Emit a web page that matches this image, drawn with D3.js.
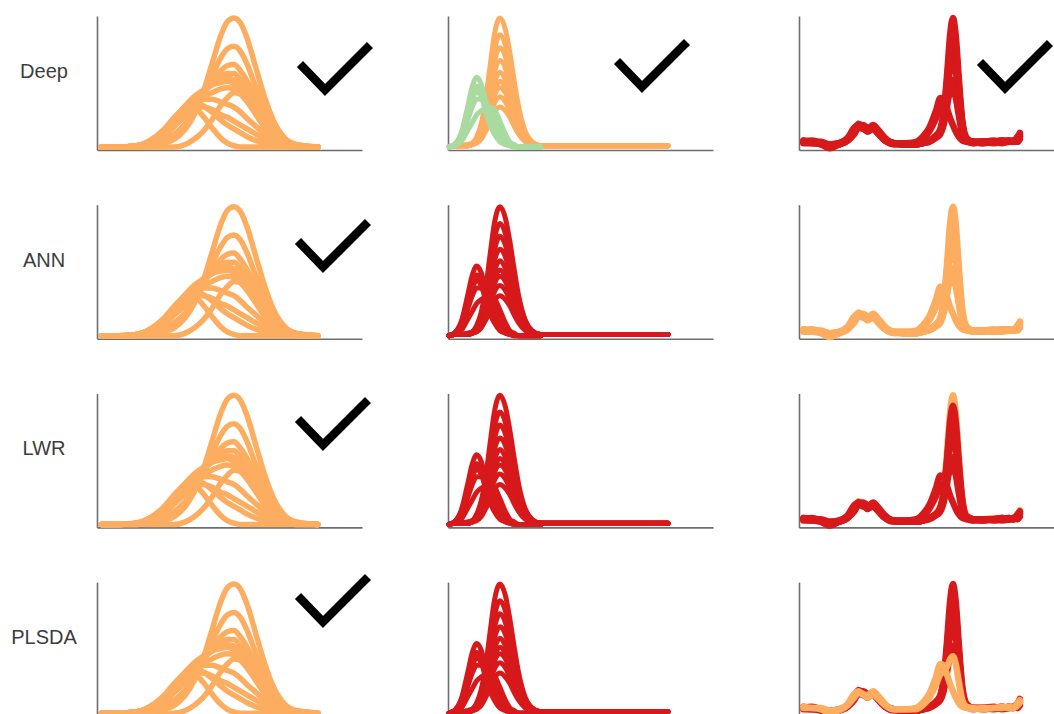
<!DOCTYPE html>
<html>
<head>
<meta charset="utf-8">
<script src="https://cdn.jsdelivr.net/npm/d3@7"></script>
<style>
  body { margin: 0; background: #fff; }
  text { font-family: "Liberation Sans", Arial, sans-serif; }
</style>
</head>
<body>
<div id="chart"></div>
<script>
// row labels
const methods = ['Deep', 'ANN', 'LWR', 'PLSDA'];

// column 1 : broad double band
const band1X = [2, 10, 18, 24, 30, 35, 40, 44, 48, 52, 56, 59, 62, 65, 68, 72, 76, 80, 85, 90, 100];
const band1 = [
    [0, 0, 0, 0.01, 0.03, 0.06, 0.14, 0.25, 0.42, 0.64, 0.86, 0.97, 1, 0.96, 0.84, 0.61, 0.38, 0.2, 0.07, 0.02, 0],
    [0, 0, 0.01, 0.02, 0.05, 0.10, 0.18, 0.27, 0.39, 0.55, 0.69, 0.76, 0.78, 0.74, 0.64, 0.46, 0.29, 0.15, 0.05, 0.02, 0],
    [0, 0, 0.01, 0.03, 0.08, 0.16, 0.24, 0.32, 0.41, 0.50, 0.59, 0.63, 0.64, 0.59, 0.51, 0.37, 0.23, 0.12, 0.04, 0.01, 0],
    [0, 0, 0.01, 0.04, 0.10, 0.19, 0.28, 0.35, 0.42, 0.49, 0.55, 0.57, 0.57, 0.52, 0.45, 0.32, 0.20, 0.10, 0.04, 0.01, 0],
    [0, 0, 0.01, 0.04, 0.12, 0.21, 0.31, 0.37, 0.43, 0.48, 0.52, 0.53, 0.52, 0.48, 0.41, 0.29, 0.18, 0.09, 0.03, 0.01, 0],
    [0, 0, 0.01, 0.05, 0.12, 0.22, 0.32, 0.39, 0.44, 0.48, 0.50, 0.51, 0.49, 0.45, 0.38, 0.27, 0.17, 0.09, 0.03, 0.01, 0],
    [0, 0, 0.01, 0.04, 0.11, 0.19, 0.28, 0.34, 0.39, 0.42, 0.45, 0.46, 0.45, 0.41, 0.35, 0.25, 0.15, 0.08, 0.03, 0.01, 0],
    [0, 0, 0.01, 0.05, 0.13, 0.22, 0.31, 0.36, 0.37, 0.37, 0.35, 0.33, 0.31, 0.27, 0.22, 0.16, 0.10, 0.05, 0.02, 0.01, 0],
    [0, 0, 0.01, 0.05, 0.13, 0.23, 0.31, 0.34, 0.32, 0.27, 0.21, 0.17, 0.14, 0.11, 0.08, 0.05, 0.03, 0.02, 0.01, 0, 0],
    [0, 0, 0.01, 0.04, 0.11, 0.20, 0.28, 0.31, 0.31, 0.29, 0.25, 0.23, 0.20, 0.17, 0.14, 0.10, 0.06, 0.03, 0.01, 0, 0],
    [0, 0, 0, 0.01, 0.07, 0.17, 0.28, 0.30, 0.24, 0.15, 0.07, 0.03, 0.01, 0, 0, 0, 0, 0, 0, 0, 0],
    [0, 0, 0, 0, 0, 0, 0.02, 0.06, 0.12, 0.21, 0.32, 0.38, 0.42, 0.41, 0.37, 0.27, 0.16, 0.08, 0.03, 0.01, 0]
];

// column 2 : early (green) and late (orange) narrow peaks
const band2X = [0.5, 3, 6, 9, 11, 13, 15, 17, 19, 21, 23.5, 26, 28, 30, 32, 35, 38, 42, 48, 60, 80, 99.6];
const band2Late = [
    [0, 0.01, 0.01, 0.02, 0.03, 0.08, 0.18, 0.36, 0.62, 0.87, 1, 0.91, 0.73, 0.51, 0.31, 0.12, 0.04, 0.01, 0.01, 0.01, 0.01, 0.01],
    [0, 0.01, 0.01, 0.02, 0.03, 0.07, 0.15, 0.31, 0.53, 0.75, 0.87, 0.79, 0.63, 0.44, 0.27, 0.11, 0.04, 0.01, 0.01, 0.01, 0.01, 0.01],
    [0, 0.01, 0.01, 0.01, 0.03, 0.06, 0.14, 0.28, 0.47, 0.66, 0.77, 0.70, 0.55, 0.39, 0.24, 0.10, 0.03, 0.01, 0.01, 0.01, 0.01, 0.01],
    [0, 0.01, 0.01, 0.01, 0.02, 0.05, 0.12, 0.24, 0.41, 0.58, 0.67, 0.61, 0.48, 0.34, 0.21, 0.08, 0.03, 0.01, 0.01, 0.01, 0.01, 0.01],
    [0, 0.01, 0.01, 0.01, 0.02, 0.05, 0.11, 0.21, 0.36, 0.50, 0.58, 0.52, 0.42, 0.29, 0.18, 0.07, 0.03, 0.01, 0.01, 0.01, 0.01, 0.01],
    [0, 0.01, 0.01, 0.01, 0.02, 0.04, 0.09, 0.19, 0.31, 0.44, 0.51, 0.46, 0.37, 0.26, 0.16, 0.07, 0.03, 0.01, 0.01, 0.01, 0.01, 0.01],
    [0, 0.01, 0.01, 0.01, 0.02, 0.04, 0.09, 0.17, 0.28, 0.40, 0.46, 0.42, 0.33, 0.23, 0.15, 0.06, 0.02, 0.01, 0.01, 0.01, 0.01, 0.01],
    [0, 0.01, 0.01, 0.01, 0.02, 0.04, 0.07, 0.14, 0.24, 0.34, 0.39, 0.35, 0.28, 0.20, 0.13, 0.05, 0.02, 0.01, 0.01, 0.01, 0.01, 0.01],
    [0, 0.01, 0.01, 0.01, 0.02, 0.03, 0.06, 0.12, 0.19, 0.27, 0.31, 0.28, 0.23, 0.16, 0.10, 0.04, 0.02, 0.01, 0.01, 0.01, 0.01, 0.01]
];
// the early group is only recorded up to channel 42
const band2EarlyX = [0.5, 3, 6, 9, 11, 13, 15, 17, 19, 21, 23.5, 26, 28, 30, 32, 35, 38, 42];
const band2Early = [
    [0, 0.02, 0.11, 0.32, 0.47, 0.54, 0.49, 0.36, 0.22, 0.12, 0.06, 0.02, 0.01, 0, 0, 0, 0, 0],
    [0, 0.02, 0.10, 0.27, 0.40, 0.47, 0.44, 0.34, 0.24, 0.16, 0.09, 0.04, 0.02, 0.01, 0, 0, 0, 0],
    [0, 0.02, 0.07, 0.21, 0.31, 0.37, 0.37, 0.33, 0.28, 0.22, 0.15, 0.07, 0.03, 0.01, 0, 0, 0, 0],
    [0, 0.01, 0.04, 0.13, 0.19, 0.25, 0.28, 0.30, 0.31, 0.29, 0.20, 0.10, 0.04, 0.02, 0, 0, 0, 0],
    [0, 0.02, 0.09, 0.26, 0.37, 0.43, 0.39, 0.28, 0.17, 0.10, 0.04, 0.02, 0.01, 0, 0, 0, 0, 0]
];

// column 3 : spectra with small bumps and a sharp main peak
const band3X = [2, 6, 10, 14, 18, 22, 25, 27, 29, 31, 33.5, 36, 39, 43, 48, 53, 56, 59, 62, 64,
    65.5, 67, 68.5, 69.7, 71, 72.3, 74, 76, 79, 83, 88, 92, 95, 97, 99, 100];
const band3Tall = [
    [0.04, 0.04, 0.03, 0.01, 0.02, 0.06, 0.13, 0.18, 0.15, 0.13, 0.16, 0.12, 0.06, 0.03, 0.02, 0.02, 0.03, 0.05, 0.09, 0.14,
     0.27, 0.55, 0.88, 1.0, 0.86, 0.55, 0.2, 0.07, 0.04, 0.04, 0.05, 0.04, 0.05, 0.04, 0.07, 0.11]
];
const band3Main = [
    [0.05, 0.04, 0.02, -0.01, 0.02, 0.05, 0.11, 0.16, 0.17, 0.15, 0.14, 0.10, 0.05, 0.03, 0.02, 0.02, 0.03, 0.05, 0.08, 0.13,
     0.24, 0.48, 0.76, 0.85, 0.73, 0.47, 0.17, 0.06, 0.04, 0.03, 0.04, 0.05, 0.04, 0.05, 0.06, 0.09],
    [0.04, 0.03, 0.03, 0.02, 0.03, 0.06, 0.12, 0.17, 0.16, 0.12, 0.15, 0.11, 0.05, 0.02, 0.02, 0.02, 0.03, 0.05, 0.08, 0.12,
     0.2, 0.39, 0.61, 0.68, 0.59, 0.38, 0.14, 0.06, 0.04, 0.04, 0.03, 0.04, 0.05, 0.04, 0.05, 0.08],
    [0.03, 0.03, 0.02, 0.01, 0.02, 0.05, 0.10, 0.15, 0.14, 0.13, 0.15, 0.10, 0.05, 0.03, 0.02, 0.02, 0.03, 0.04, 0.07, 0.1,
     0.17, 0.31, 0.47, 0.52, 0.45, 0.29, 0.11, 0.05, 0.03, 0.04, 0.04, 0.03, 0.04, 0.05, 0.04, 0.06],
    [0.04, 0.05, 0.03, 0.01, 0.02, 0.05, 0.12, 0.17, 0.16, 0.14, 0.15, 0.11, 0.05, 0.03, 0.02, 0.02, 0.03, 0.05, 0.08, 0.13,
     0.25, 0.5, 0.81, 0.92, 0.79, 0.5, 0.18, 0.06, 0.04, 0.04, 0.04, 0.05, 0.04, 0.04, 0.08, 0.1]
];
const band3Shoulder = [
    [0.05, 0.04, 0.04, 0.02, 0.03, 0.07, 0.15, 0.17, 0.14, 0.14, 0.17, 0.13, 0.07, 0.03, 0.03, 0.04, 0.08, 0.15, 0.28, 0.38,
     0.37, 0.30, 0.22, 0.17, 0.12, 0.08, 0.05, 0.04, 0.03, 0.04, 0.04, 0.05, 0.04, 0.04, 0.08, 0.1],
    [0.04, 0.04, 0.03, 0.0, 0.02, 0.06, 0.12, 0.16, 0.15, 0.12, 0.14, 0.11, 0.06, 0.03, 0.03, 0.03, 0.06, 0.12, 0.22, 0.30,
     0.32, 0.36, 0.42, 0.44, 0.38, 0.25, 0.1, 0.05, 0.04, 0.03, 0.04, 0.04, 0.05, 0.04, 0.06, 0.08]
];

const colors = { orange: '#fdad60', red: '#d7191c', green: '#a9dba0' };

// which bundles go in which panel, drawn in order, with their colour
const panelLayers = [
    [
        [[band1X, band1, 'orange']],
        [[band2X, band2Late, 'orange'], [band2EarlyX, band2Early, 'green']],
        [[band3X, band3Shoulder, 'red'], [band3X, band3Main, 'red'], [band3X, band3Tall, 'red']]
    ],
    [
        [[band1X, band1, 'orange']],
        [[band2X, band2Late, 'red'], [band2EarlyX, band2Early, 'red']],
        [[band3X, band3Shoulder, 'orange'], [band3X, band3Main, 'orange'], [band3X, band3Tall, 'orange']]
    ],
    [
        [[band1X, band1, 'orange']],
        [[band2X, band2Late, 'red'], [band2EarlyX, band2Early, 'red']],
        [[band3X, band3Tall, 'orange'], [band3X, band3Shoulder, 'red'], [band3X, band3Main, 'red']]
    ],
    [
        [[band1X, band1, 'orange']],
        [[band2X, band2Late, 'red'], [band2EarlyX, band2Early, 'red']],
        [[band3X, band3Tall, 'red'], [band3X, band3Main, 'red'], [band3X, band3Shoulder, 'orange']]
    ]
];
const lineWidths = [5.5, 5, 6.5]; // per column

// tick marks (bottom vertex of each check)
const checkAnchors = [[325, 90], [642, 87], [1005, 88], [323, 267], [323, 445], [323, 622]];

const width = 1054;
const height = 714;
const panelW = 265;
const panelH = 134;
const colLeft = [97, 448, 799];
const rowTop = function(r) { return 16 + r * 188.7; };

const svg = d3.select('#chart')
    .append('svg')
    .attr('width', width)
    .attr('height', height)
    .style('background', '#fff');

const x = d3.scaleLinear().domain([0, 120]).range([0, panelW]);
const y = d3.scaleLinear().domain([-0.023, 1.015]).range([panelH, 0]);

methods.forEach(function(name, r) {
    svg.append('text')
        .attr('x', 44)
        .attr('y', rowTop(r) + 62)
        .attr('text-anchor', 'middle')
        .attr('font-size', 20)
        .attr('fill', '#3d3d3d')
        .text(name);

    panelLayers[r].forEach(function(layers, c) {
        const g = svg.append('g').attr('transform', `translate(${colLeft[c]},${rowTop(r)})`);

        // bare axes, no ticks
        const xAxis = g.append('g')
            .attr('transform', `translate(0,${panelH})`)
            .call(d3.axisBottom(x).tickValues([]).tickSizeOuter(0));
        const yAxis = g.append('g')
            .call(d3.axisLeft(y).tickValues([]).tickSizeOuter(0));
        [xAxis, yAxis].forEach(function(a) {
            a.select('.domain').attr('stroke', '#6e6e6e').attr('stroke-width', 1.6);
        });

        layers.forEach(function(layer) {
            const xs = layer[0];
            const line = d3.line()
                .x(function(d, i) { return x(xs[i]); })
                .y(function(d) { return y(d); })
                .curve(d3.curveMonotoneX);
            g.append('g')
                .selectAll('path')
                .data(layer[1])
                .join('path')
                .attr('d', line)
                .attr('fill', 'none')
                .attr('stroke', colors[layer[2]])
                .attr('stroke-width', lineWidths[c])
                .attr('stroke-linejoin', 'round')
                .attr('stroke-linecap', 'round');
        });
    });
});

// check marks
const checkLine = d3.line();
svg.selectAll('path.check')
    .data(checkAnchors)
    .join('path')
    .attr('class', 'check')
    .attr('d', function(d) {
        return checkLine([[d[0] - 25, d[1] - 26], [d[0], d[1]], [d[0] + 45, d[1] - 45]]);
    })
    .attr('fill', 'none')
    .attr('stroke', '#000')
    .attr('stroke-width', 8.5);
</script>
</body>
</html>
